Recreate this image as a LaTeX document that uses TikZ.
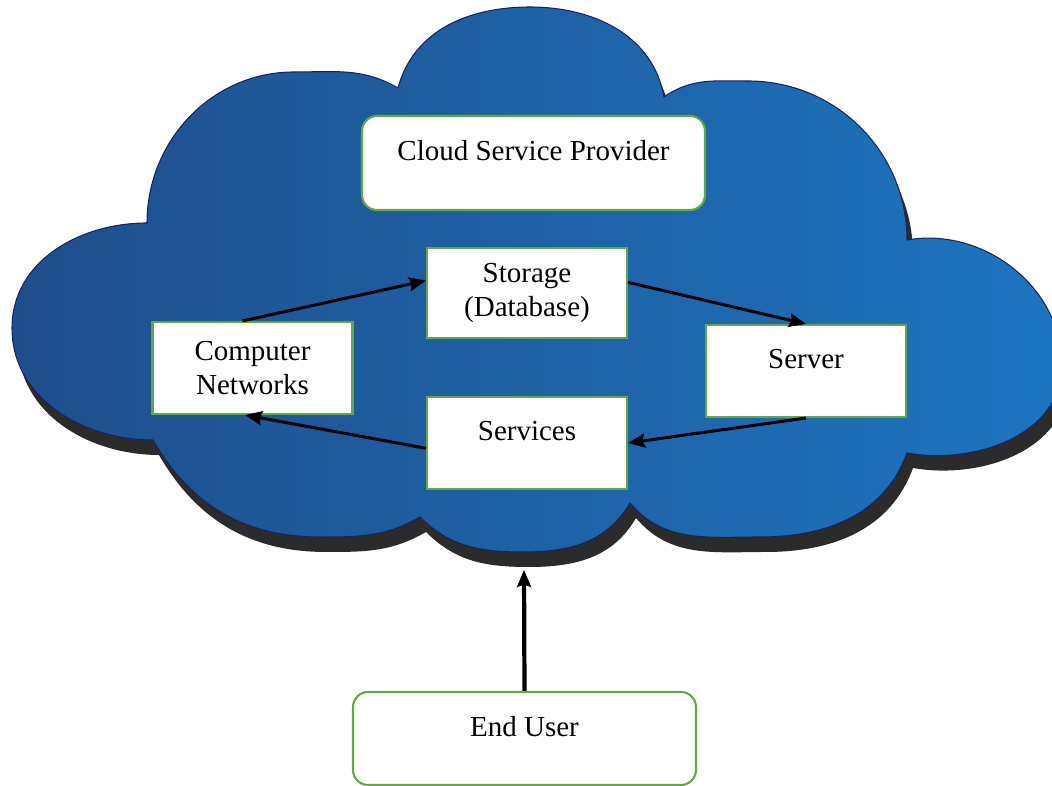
\documentclass[tikz,border=0pt]{standalone}
\usepackage{fontspec}
\setmainfont{Liberation Serif}
\usetikzlibrary{arrows.meta,shadows}

\definecolor{cloudleft}{RGB}{31,78,140}
\definecolor{cloudright}{RGB}{29,117,192}
\definecolor{cloudedge}{RGB}{22,36,92}
\definecolor{cloudshadow}{RGB}{43,43,43}
\definecolor{boxgreen}{RGB}{98,170,62}

\begin{document}
\begin{tikzpicture}[x=0.02cm, y=0.02cm,
    box/.style={draw=boxgreen, fill=white, line width=1.2pt, minimum width=4cm,
      minimum height=1.8cm, align=center, font=\fontsize{16.5}{19.5}\selectfont},
    rbox/.style={box, rounded corners=0.3cm},
    raised/.style={inner sep=0pt, text height=0.88cm, text depth=0.96cm},
    link/.style={line width=1.7pt, -{Stealth[length=3.4mm, width=2.8mm, inset=0.5mm]}}]

        \clip (0,0) rectangle (1052,786);

        % the cloud
        \path[drop shadow={shadow xshift=0.12cm, shadow yshift=-0.3cm, fill=cloudshadow, opacity=1},
              left color=cloudleft, right color=cloudright, draw=cloudedge, line width=0.6pt]
            (147,563) to[out=90,in=180] (294,714) to[out=0,in=150] (398,698)
            to[out=75,in=180] (530,779) to[out=0,in=100] (664,689)
            to[out=35,in=180] (748,705) to[out=0,in=90] (907,546)
            to[out=10,in=90] (1062,421) to[out=-90,in=-10] (907,333)
            to[out=-110,in=0] (760,249) to[out=180,in=-50] (630,283)
            to[out=-120,in=0] (523,234) to[out=180,in=-45] (420,269)
            to[out=-150,in=0] (320,249) to[out=180,in=-60] (153,346)
            to[out=180,in=-90] (12,458) to[out=90,in=180] cycle;

        \node[rbox, raised, minimum width=6.86cm, minimum height=1.88cm] (csp) at (533.5,623) {Cloud Service Provider};
        \node[box] (st) at (527,493) {Storage\\(Database)};
        \node[box, minimum height=1.84cm] (cn) at (252.5,418) {Computer\\Networks};
        \node[box, raised] (sv) at (806,415) {Server};
        \node[box, raised, minimum height=1.84cm] (se) at (527,343) {Services};
        \node[rbox, raised, minimum width=6.86cm, minimum height=1.86cm] (eu) at (524.5,47.5) {End User};

        \draw[link] (cn.102) -- (st.173);
        \draw[link] (st.6) -- (sv.north);
        \draw[link] (sv.south) -- (se.east);
        \draw[link] (se.-177) -- (cn.-99);

        \coordinate (cloudbase) at (524,216);
        \draw[link, line width=2.4pt] (eu.north) -- (cloudbase);
    \end{tikzpicture}
\end{document}
